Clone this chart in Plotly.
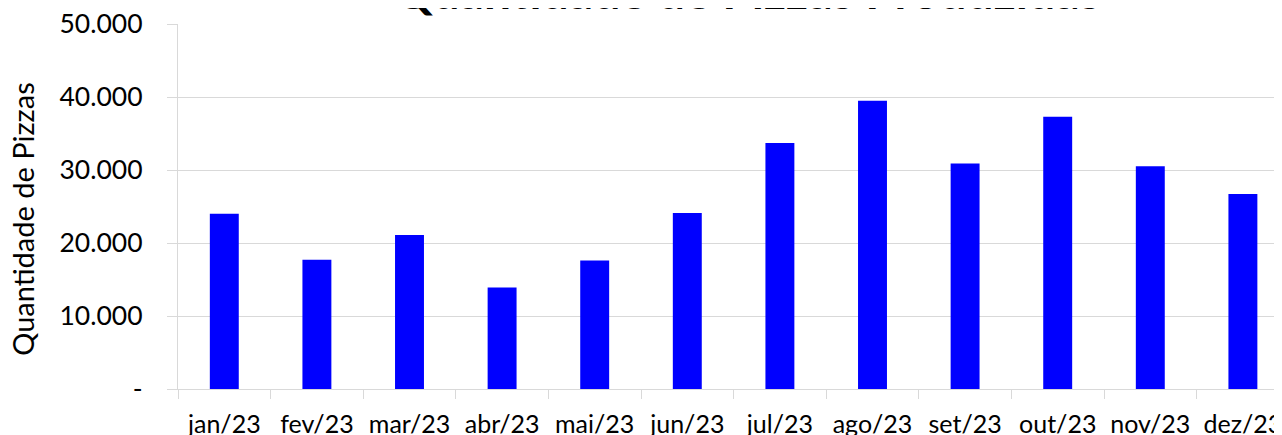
import plotly.graph_objects as go

meses = ["jan/23", "fev/23", "mar/23", "abr/23", "mai/23", "jun/23",
         "jul/23", "ago/23", "set/23", "out/23", "nov/23", "dez/23"]
pizzas = [24000, 17700, 21100, 13900, 17600, 24100,
          33700, 39500, 30900, 37300, 30500, 26700]
y_ticks = [0, 10000, 20000, 30000, 40000, 50000]
y_tick_labels = ["-", "10.000", "20.000", "30.000", "40.000", "50.000"]
titulo = "Quantidade de Pizzas Produzidas"
titulo_y = "Quantidade de Pizzas"

# page body has an 8px margin: figure coordinates = window coordinates - 8
OFF = 8
W, H = 1282, 435
plot_left, plot_top, plot_bottom = 178 - OFF, 23.7 - OFF, 388.7 - OFF
cat_w = 92.6
ph = plot_bottom - plot_top
pw = W - plot_left

fig = go.Figure()
fig.add_trace(go.Bar(x=meses, y=pizzas, marker=dict(color="#0000FF", line=dict(width=0))))

grid = "#d9d9d9"
font_main = "Lato, 'Open Sans', sans-serif"

fig.update_layout(
    width=W, height=H,
    margin=dict(l=plot_left, r=0, t=plot_top, b=H - plot_bottom, pad=0, autoexpand=False),
    paper_bgcolor="white", plot_bgcolor="white",
    showlegend=False,
    bargap=0.6875,
    separators=",.",
    font=dict(family=font_main, color="#000000"),
)
visible_cats = pw / cat_w
fig.update_xaxes(
    type="category",
    range=[-0.5, -0.5 + visible_cats],
    showgrid=False,
    showline=True, linecolor=grid, linewidth=1.3,
    ticks="outside", tickson="boundaries", ticklen=9, tickcolor=grid, tickwidth=1.3,
    tickfont=dict(size=25, family=font_main, color="#000000"),
    ticklabelstandoff=13,
    ticklabeloverflow="allow",
    automargin=False,
)
fig.update_yaxes(
    range=[0, 50000],
    tickvals=y_ticks, ticktext=y_tick_labels,
    showgrid=True, gridcolor=grid, gridwidth=1.3,
    showline=True, linecolor=grid, linewidth=1.3,
    ticks="outside", ticklen=10, tickcolor=grid, tickwidth=1.3,
    tickfont=dict(size=26.5, family=font_main, color="#000000"),
    ticklabelstandoff=19,
    ticklabeloverflow="allow",
    zeroline=False,
    automargin=False,
)
fig.add_annotation(
    text=titulo_y, textangle=-90, xref="paper", yref="paper",
    x=-(plot_left - (23 - OFF)) / pw, y=(plot_bottom - (218.5 - OFF)) / ph,
    xanchor="center", yanchor="middle", showarrow=False,
    font=dict(size=29, family=font_main, color="#000000"),
)
fig.add_annotation(
    text="<b>" + titulo + "</b>", xref="paper", yref="paper",
    x=(747.5 - OFF - plot_left) / pw, y=1 + (plot_top - 12.5) / ph,
    xanchor="center", yanchor="bottom", showarrow=False,
    font=dict(size=48, family=font_main, color="#000000"),
)

fig.write_html("out.html")
